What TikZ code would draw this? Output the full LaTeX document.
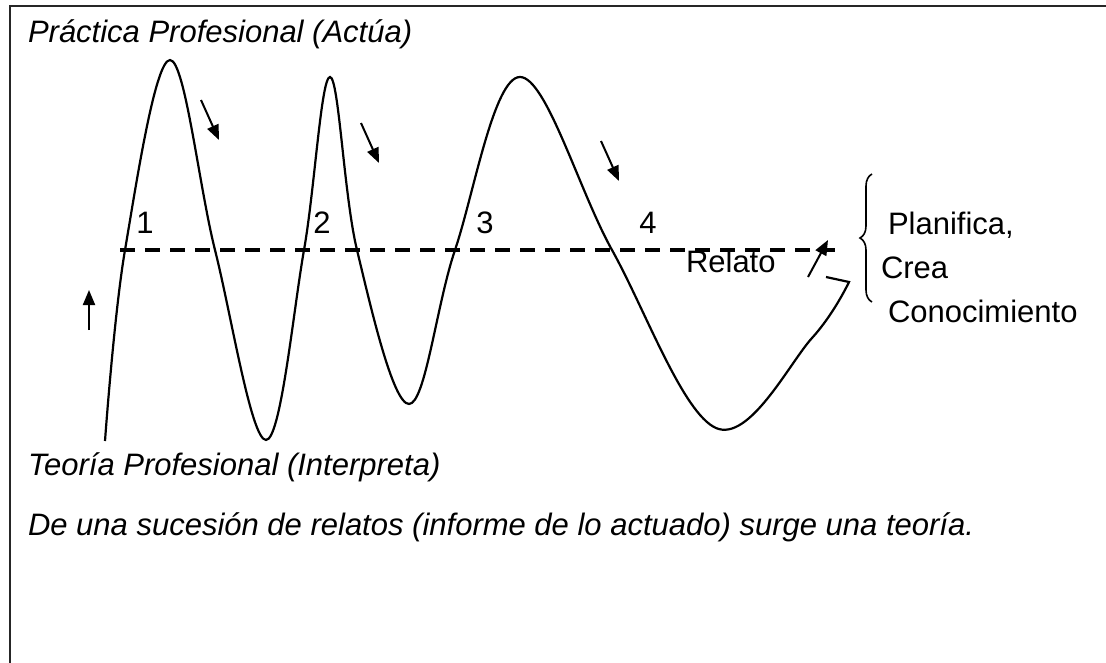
\documentclass[tikz,border=0pt]{standalone}
\usepackage{fontspec}
\setmainfont{Liberation Sans}
\usetikzlibrary{arrows.meta, positioning, calc, decorations.pathreplacing}
\tikzset{
  every picture/.style={font=\fontsize{31pt}{36pt}\selectfont, line width=2pt},
  frame/.style={draw=black!85, line width=2.4pt},
  wave/.style={draw=black, line width=2.2pt},
  base/.style={draw=black, line width=3.6pt, dash pattern=on 15pt off 10pt},
  arrow/.style={-{Triangle[length=15pt, width=12pt]}, draw=black, line width=2pt},
  heading/.style={anchor=base west, inner sep=0pt, font=\fontsize{31pt}{36pt}\selectfont\itshape},
  txt/.style={anchor=base west, inner sep=0pt},
  num/.style={anchor=base, inner sep=0pt},
  bracket/.style={decorate, decoration={brace, amplitude=12pt}, line width=1.6pt},
}

\begin{document}
\begin{tikzpicture}[x=1pt, y=-1pt]
  \useasboundingbox (0,0) rectangle (1106,662);
  \clip (0,0) rectangle (1106,662);
  \draw[frame] (10,700) -- (10,6) -- (1130,6);
  % headings
  \node[heading] (practica) at (27,42) {Práctica Profesional (Actúa)};
  \node[heading] (teoria) at (27,475) {Teoría Profesional (Interpreta)};
  \node[heading] (sucesion) at (27,535) {De una sucesión de relatos (informe de lo actuado) surge una teoría.};
  % line of the relatos
  \coordinate (lineL) at (120,250);
  \coordinate (lineR) at (842,250);
  \draw[base] (lineL) -- (lineR);
  \node[num] (n1) at (145,233) {1};
  \node[num] (n2) at (322,233) {2};
  \node[num] (n3) at (485,233) {3};
  \node[num] (n4) at (648,233) {4};
  \node[txt] (relato) at (685,272) {Relato};
  % wave
  \draw[wave] plot[smooth, tension=0.6] coordinates {
    (105,441) (125,250) (170,60) (215,250) (266,440) (304,250) (330,77)
    (357,250) (409,404) (455,250) (520,77) (612,250) (716,428) (812,338) (849,282)}
    -- (826,277);
  % arrows
  \draw[arrow] (89,330) -- (89,290);
  \draw[arrow] (201,100) -- (219,140);
  \draw[arrow] (361,123) -- (379,163);
  \draw[arrow] (601,141) -- (619,181);
  \draw[arrow] (808,277) -- (828,240);
  % brace
  \draw[bracket] (872,302) -- (872,174);
  \node[txt] (planifica) at (887,234) {Planifica,};
  \node[txt] (crea) at (880,278) {Crea};
  \node[txt] (conoc) at (887,322) {Conocimiento};
\end{tikzpicture}
\end{document}
